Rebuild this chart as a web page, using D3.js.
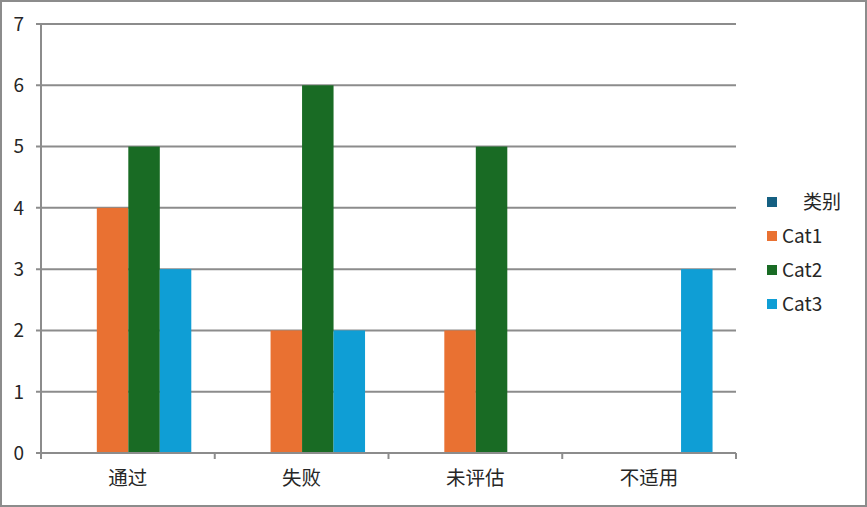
<!DOCTYPE html>
<html>
<head>
<meta charset="utf-8">
<script src="https://cdn.jsdelivr.net/npm/d3@7"></script>
<style>
  body { margin: 0; background: #fff; }
  text { font-family: "Noto Sans CJK SC", "Noto Sans", sans-serif; fill: #262626; }
  .legend text { white-space: pre; }
</style>
</head>
<body>
<svg id="chart" width="867" height="507"></svg>
<script>
  // chart data
  var categories = ['通过', '失败', '未评估', '不适用'];
  var seriesNames = ['类别', 'Cat1', 'Cat2', 'Cat3'];
  var seriesColors = ['#156082', '#E97132', '#196B24', '#0F9ED5'];
  var values = [
    [0, 0, 0, 0],   // 类别
    [4, 2, 2, 0],   // Cat1
    [5, 6, 5, 0],   // Cat2
    [3, 2, 0, 3]    // Cat3
  ];
  var yTicks = [0, 1, 2, 3, 4, 5, 6, 7];

  var svg = d3.select('#chart');
  var plotLeft = 41, plotRight = 736, plotTop = 24, plotBottom = 453;

  // outer frame
  svg.append('rect')
    .attr('x', 1).attr('y', 1)
    .attr('width', 865).attr('height', 505)
    .attr('fill', 'none')
    .attr('stroke', '#8c8c8c')
    .attr('stroke-width', 2);

  var x0 = d3.scaleBand().domain(categories).range([plotLeft, plotRight]).padding(0);
  var bw = x0.bandwidth();
  var x1 = d3.scaleBand().domain(seriesNames).range([bw * 0.14, bw * 0.865]).padding(0);
  var y = d3.scaleLinear().domain([0, 7]).range([plotBottom, plotTop]);

  // gridlines + y ticks
  svg.append('g')
    .selectAll('line')
    .data(yTicks)
    .enter().append('line')
    .attr('x1', plotLeft - 5).attr('x2', plotRight)
    .attr('y1', d => y(d)).attr('y2', d => y(d))
    .attr('stroke', '#8c8c8c')
    .attr('stroke-width', 2);

  svg.append('g')
    .selectAll('text')
    .data(yTicks)
    .enter().append('text')
    .attr('x', 24)
    .attr('y', d => y(d))
    .attr('dy', '0.36em')
    .attr('text-anchor', 'end')
    .attr('font-size', 19)
    .text(d => d);

  // bars
  var groups = svg.append('g')
    .selectAll('g')
    .data(categories)
    .enter().append('g')
    .attr('transform', d => 'translate(' + x0(d) + ',0)');

  groups.selectAll('rect')
    .data((c, ci) => seriesNames.map((s, si) => ({s: s, v: values[si][ci], color: seriesColors[si]})))
    .enter().append('rect')
    .attr('x', d => x1(d.s))
    .attr('width', x1.bandwidth())
    .attr('y', d => y(d.v))
    .attr('height', d => y(0) - y(d.v))
    .attr('fill', d => d.color);

  // y axis line
  svg.append('line')
    .attr('x1', plotLeft).attr('x2', plotLeft)
    .attr('y1', plotTop).attr('y2', plotBottom)
    .attr('stroke', '#8c8c8c')
    .attr('stroke-width', 2);

  // x axis line and ticks
  svg.append('line')
    .attr('x1', plotLeft - 5).attr('x2', plotRight)
    .attr('y1', plotBottom).attr('y2', plotBottom)
    .attr('stroke', '#8c8c8c')
    .attr('stroke-width', 2);

  var bounds = categories.map(c => x0(c)).concat([plotRight]);
  svg.append('g')
    .selectAll('line')
    .data(bounds)
    .enter().append('line')
    .attr('x1', d => d).attr('x2', d => d)
    .attr('y1', plotBottom).attr('y2', plotBottom + 6)
    .attr('stroke', '#8c8c8c')
    .attr('stroke-width', 2);

  svg.append('g')
    .selectAll('text')
    .data(categories)
    .enter().append('text')
    .attr('x', d => x0(d) + bw / 2)
    .attr('y', 485)
    .attr('text-anchor', 'middle')
    .attr('font-size', 19.5)
    .text(d => d);

  // legend
  var legendY = d3.scalePoint().domain(seriesNames).range([202, 304]);
  var legend = svg.append('g').attr('class', 'legend')
    .selectAll('g')
    .data(seriesNames)
    .enter().append('g')
    .attr('transform', d => 'translate(767,' + legendY(d) + ')');

  legend.append('rect')
    .attr('x', 0).attr('y', -5)
    .attr('width', 10).attr('height', 10)
    .attr('fill', (d, i) => seriesColors[i]);

  legend.append('text')
    .attr('x', (d, i) => i === 0 ? 36 : 15)
    .attr('dy', '0.36em')
    .attr('font-size', 19)
    .text(d => d);
</script>
</body>
</html>
